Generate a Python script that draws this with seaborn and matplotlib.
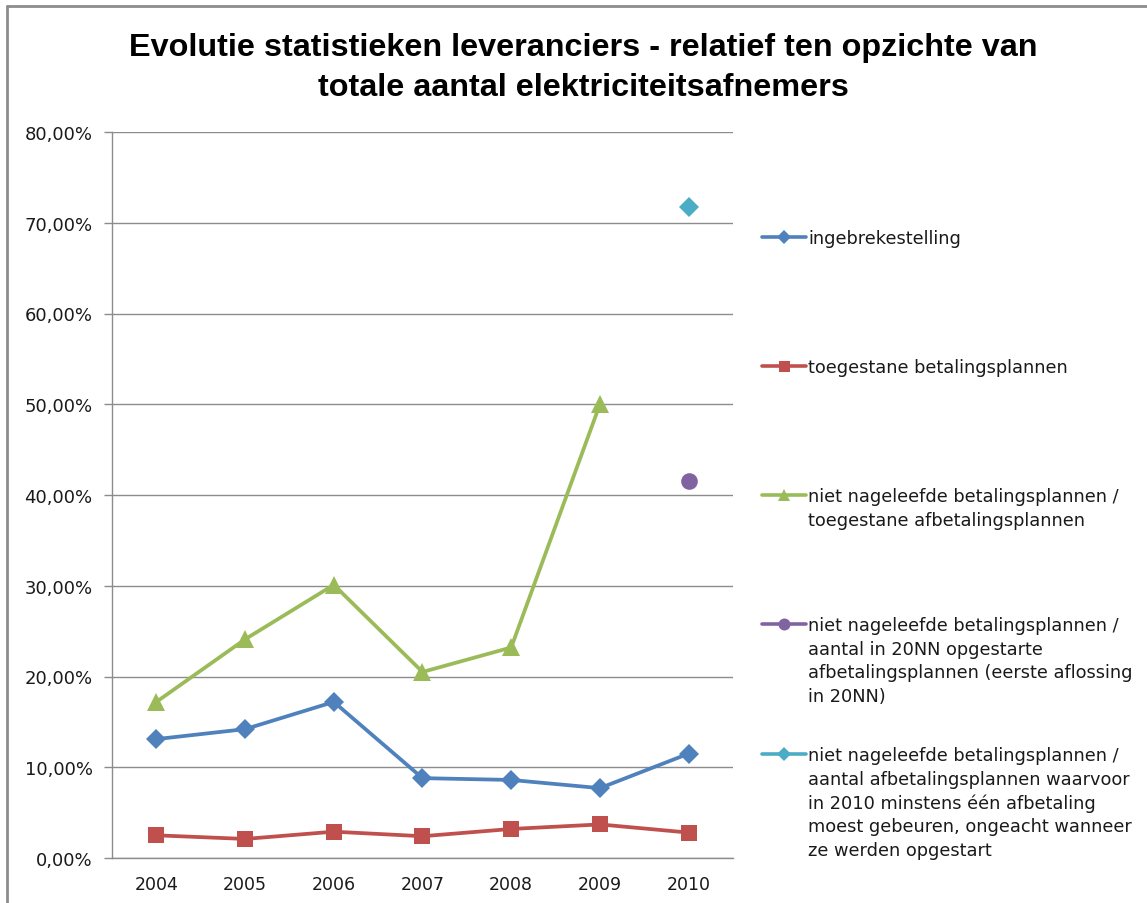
import matplotlib
matplotlib.use("Agg")
import matplotlib.pyplot as plt
import seaborn as sns
import pandas as pd
import numpy as np
from matplotlib.lines import Line2D
from matplotlib.ticker import FuncFormatter, FixedLocator

years = ["2004", "2005", "2006", "2007", "2008", "2009", "2010"]
ingebrekestelling = [13.1, 14.2, 17.2, 8.8, 8.6, 7.7, 11.5]
toegestane = [2.5, 2.1, 2.9, 2.4, 3.2, 3.7, 2.8]
niet_toegestane = [17.2, 24.1, 30.1, 20.5, 23.2, 50.0, np.nan]
niet_opgestarte = [np.nan, np.nan, np.nan, np.nan, np.nan, np.nan, 41.5]
niet_minstens = [np.nan, np.nan, np.nan, np.nan, np.nan, np.nan, 71.7]

labels = [
    "ingebrekestelling",
    "toegestane betalingsplannen",
    "niet nageleefde betalingsplannen /\ntoegestane afbetalingsplannen",
    "niet nageleefde betalingsplannen /\naantal in 20NN opgestarte\nafbetalingsplannen (eerste aflossing\nin 20NN)",
    "niet nageleefde betalingsplannen /\naantal afbetalingsplannen waarvoor\nin 2010 minstens één afbetaling\nmoest gebeuren, ongeacht wanneer\nze werden opgestart",
]
series = [ingebrekestelling, toegestane, niet_toegestane, niet_opgestarte, niet_minstens]
colors = ["#4F81BD", "#C0504D", "#9BBB59", "#8064A2", "#4BACC6"]
markers = ["D", "s", "^", "o", "D"]
msizes = [10.5, 11, 12.5, 12, 10.5]

title = "Evolutie statistieken leveranciers - relatief ten opzichte van\ntotale aantal elektriciteitsafnemers"

sns.set_theme(style="white")
plt.rcParams["font.family"] = ["DejaVu Sans"]

fig = plt.figure(figsize=(11.47, 9.04), dpi=100)
W, H = 1147, 904
ax = fig.add_axes([112 / W, (H - 859) / H, (733 - 112) / W, (859 - 133) / H])

xpos = np.arange(len(years))
handles = []
for vals, lab, col, mk, ms in zip(series, labels, colors, markers, msizes):
    df = pd.DataFrame({"x": xpos, "y": vals}).dropna()
    sns.lineplot(data=df, x="x", y="y", ax=ax, color=col, linewidth=2.7,
                 marker=mk, markersize=ms, markeredgewidth=0, legend=False)
    handles.append(Line2D([0], [0], color=col, linewidth=2.6, marker=mk,
                          markersize=ms * 0.72, markeredgewidth=0))

ax.set_xlim(-0.5, 6.5)
ax.set_ylim(0, 80)
ax.set_xlabel("")
ax.set_ylabel("")
ax.set_xticks(xpos)
ax.set_xticklabels(years, fontsize=12.5, color="#1a1a1a")
ax.xaxis.set_minor_locator(FixedLocator(np.arange(-0.5, 7.0, 1.0)))
ax.tick_params(axis="x", which="major", length=0, pad=12)
ax.tick_params(axis="x", which="minor", length=6, color="#8c8c8c", width=1, direction="out")
ax.set_yticks(np.arange(0, 81, 10))
ax.yaxis.set_major_formatter(FuncFormatter(lambda v, p: f"{v:.2f}".replace(".", ",") + "%"))
ax.tick_params(axis="y", length=6, color="#8c8c8c", width=1, direction="out", labelsize=13,
               labelcolor="#1a1a1a", pad=8, left=True)
ax.grid(axis="y", color="#8c8c8c", linewidth=1)
ax.grid(axis="x", visible=False)
for s in ["top", "right"]:
    ax.spines[s].set_visible(False)
for s in ["left", "bottom"]:
    ax.spines[s].set_visible(True)
    ax.spines[s].set_color("#8c8c8c")
    ax.spines[s].set_linewidth(1)
ax.set_axisbelow(True)

# legends, one per entry, handle aligned with first text line
first_line_y = [238, 367, 496, 625, 755]
for h, lab, yy in zip(handles, labels, first_line_y):
    leg = fig.legend([h], [lab], loc="upper left",
                     bbox_to_anchor=(762 / W, (H - yy + 8) / H),
                     frameon=False, fontsize=12.8, handlelength=2.45,
                     handleheight=1.25, handletextpad=0.15,
                     borderpad=0, borderaxespad=0)
    for t in leg.get_texts():
        t.set_color("#1a1a1a")
        t.set_linespacing(1.4)
    for col_box in leg._legend_handle_box.get_children():
        for row in col_box.get_children():
            row.align = "top"

fig.text(583 / W, (H - 68) / H, title, ha="center", va="center",
         fontsize=23.3, fontweight="bold", color="#000000",
         family=["Liberation Sans", "DejaVu Sans"], linespacing=1.42)

# chart area border
fig.add_artist(Line2D([7 / W, 7 / W], [0, (H - 7) / H], color="#8c8c8c", linewidth=2, transform=fig.transFigure))
fig.add_artist(Line2D([7 / W, 1.0], [(H - 7) / H, (H - 7) / H], color="#8c8c8c", linewidth=2, transform=fig.transFigure))

fig.savefig("out.png", dpi=100)
